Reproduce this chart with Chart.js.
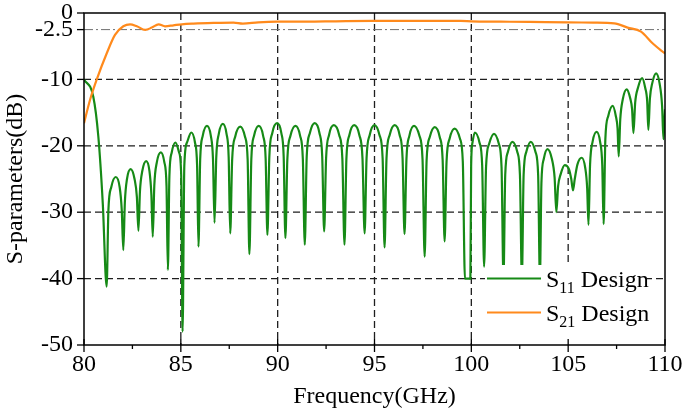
<!DOCTYPE html>
<html>
<head>
<meta charset="utf-8">
<script src="https://cdn.jsdelivr.net/npm/chart.js@4.4.0/dist/chart.umd.min.js"></script>
<style>
  html, body { margin: 0; padding: 0; background: #fff; }
</style>
</head>
<body>
<canvas id="chart" width="685" height="415"></canvas>
<script>
const FONT = "'Liberation Serif', 'Times New Roman', serif";
const GREEN = "#168a16";
const ORANGE = "#ff8a1c";

// axes
const X_TICKS = [80, 85, 90, 95, 100, 105, 110];
const X_MINOR_TICKS = [82.5, 87.5, 92.5, 97.5, 102.5, 107.5];
const Y_TICKS = [0, -2.5, -10, -20, -30, -40, -50];
const X_GRID = [85, 90, 95, 100, 105];
const Y_GRID = [-10, -20, -30, -40];
const Y_REF = -2.5;

// S11 Design
const s11Freq = [
  80.00, 80.48, 80.74, 80.97, 81.17, 81.26, 81.41, 81.64, 81.84, 81.95,
  82.03, 82.11, 82.22, 82.41, 82.61, 82.73, 82.81, 82.89, 83.01, 83.21,
  83.38, 83.48, 83.55, 83.63, 83.76, 83.97, 84.15, 84.26, 84.33, 84.41,
  84.53, 84.72, 84.91, 85.02, 85.09, 85.18, 85.32, 85.54, 85.73, 85.84,
  85.91, 86.00, 86.13, 86.35, 86.55, 86.66, 86.74, 86.83, 86.96, 87.17,
  87.36, 87.47, 87.55, 87.65, 87.81, 88.07, 88.31, 88.45, 88.54, 88.64,
  88.78, 89.02, 89.25, 89.38, 89.47, 89.57, 89.72, 89.97, 90.19, 90.31,
  90.40, 90.50, 90.66, 90.92, 91.16, 91.30, 91.40, 91.50, 91.66, 91.91,
  92.16, 92.30, 92.40, 92.50, 92.65, 92.90, 93.18, 93.34, 93.45, 93.55,
  93.70, 93.95, 94.22, 94.38, 94.49, 94.59, 94.75, 95.00, 95.26, 95.42,
  95.52, 95.62, 95.78, 96.04, 96.30, 96.45, 96.55, 96.65, 96.80, 97.04,
  97.32, 97.48, 97.59, 97.69, 97.85, 98.11, 98.37, 98.52, 98.62, 98.72,
  98.88, 99.14, 99.41, 99.56, 99.67, 99.95, 99.99, 100.06, 100.18, 100.42,
  100.56, 100.66, 100.76, 100.92, 101.17, 101.42, 101.56, 101.66, 101.75, 101.89,
  102.12, 102.37, 102.51, 102.61, 102.70, 102.84, 103.07, 103.31, 103.45, 103.54,
  103.62, 103.74, 103.93, 104.16, 104.30, 104.39, 104.48, 104.61, 104.82, 105.04,
  105.16, 105.25, 105.34, 105.48, 105.70, 105.88, 105.98, 106.05, 106.13, 106.26,
  106.47, 106.65, 106.76, 106.83, 106.92, 107.07, 107.30, 107.46, 107.55, 107.61,
  107.69, 107.82, 108.02, 108.20, 108.30, 108.37, 108.46, 108.60, 108.82, 108.98,
  109.08, 109.14, 109.22, 109.34, 109.54, 109.72, 109.85, 109.92, 110.00
];
const s11Db = [
  -10.0, -12.6, -18.6, -28.7, -41.2, -29.7, -26.2, -24.7, -26.2, -29.7,
  -35.7, -28.5, -25.0, -23.5, -25.0, -27.7, -32.8, -26.8, -23.8, -22.3,
  -23.8, -27.4, -33.7, -26.0, -22.5, -21.0, -22.5, -26.0, -38.7, -24.5,
  -21.0, -19.5, -21.0, -24.5, -48.0, -23.0, -19.5, -18.0, -19.5, -23.0,
  -35.2, -22.0, -18.5, -17.0, -18.5, -22.0, -31.6, -21.7, -18.2, -16.7,
  -18.2, -21.7, -33.2, -22.1, -18.6, -17.1, -18.6, -22.1, -36.3, -22.0,
  -18.5, -17.0, -18.5, -22.0, -33.4, -21.6, -18.1, -16.6, -18.1, -21.6,
  -33.9, -22.0, -18.5, -17.0, -18.5, -22.0, -34.9, -21.6, -18.1, -16.6,
  -18.1, -21.6, -32.9, -21.9, -18.4, -16.9, -18.4, -21.9, -34.9, -21.9,
  -18.4, -16.9, -18.4, -21.9, -33.2, -21.9, -18.4, -16.9, -18.4, -21.9,
  -35.3, -21.9, -18.4, -16.9, -18.4, -21.9, -33.3, -22.0, -18.5, -17.0,
  -18.5, -22.0, -36.7, -22.2, -18.7, -17.2, -18.7, -22.2, -34.4, -22.4,
  -18.9, -17.4, -18.9, -22.4, -40.0, -40.0, -23.0, -19.5, -18.0, -19.5,
  -23.0, -38.2, -23.2, -19.7, -18.2, -19.7, -23.2, -40.0, -24.4, -20.9,
  -19.4, -20.9, -24.4, -40.0, -24.4, -20.9, -19.4, -20.9, -24.4, -40.0,
  -25.5, -22.0, -20.5, -22.0, -24.8, -30.0, -26.1, -24.3, -22.9, -23.5,
  -25.0, -26.7, -25.0, -22.8, -21.8, -23.3, -26.3, -31.9, -22.9, -19.4,
  -17.9, -19.4, -22.9, -31.8, -19.0, -15.5, -14.0, -15.5, -17.4, -21.6,
  -16.0, -13.0, -11.5, -12.8, -14.5, -18.1, -13.5, -11.3, -9.8, -11.3,
  -13.3, -17.6, -12.9, -10.6, -9.1, -10.6, -14.0, -19.0, -14.5
];

// S21 Design
const s21Freq = [
  80.00, 80.31, 80.66, 81.17, 81.60, 82.03, 82.38, 82.73, 83.16, 83.50,
  83.85, 84.19, 84.62, 85.05, 85.65, 86.69, 87.72, 88.20, 89.00, 89.97,
  91.50, 93.00, 94.95, 97.00, 99.45, 100.00, 101.50, 103.00, 104.97, 106.30,
  107.38, 108.07, 108.76, 109.37, 110.00
];
const s21Db = [
  -16.6, -13.1, -10.0, -6.1, -3.3, -2.0, -1.7, -2.0, -2.55, -2.2,
  -1.7, -2.0, -1.85, -1.7, -1.6, -1.5, -1.45, -1.6, -1.4, -1.3,
  -1.3, -1.25, -1.2, -1.2, -1.2, -1.25, -1.3, -1.35, -1.4, -1.45,
  -1.55, -2.2, -2.8, -4.6, -6.1
];

const seriesNames = ["11", "21"];

function toPoints(xs, ys) {
  return xs.map((x, i) => ({ x: x, y: ys[i] }));
}

// grid, frame, tick marks and the legend box
const decorations = {
  id: "decorations",
  beforeDatasetsDraw(chart) {
    const { ctx, chartArea: a, scales: { x, y } } = chart;
    ctx.save();
    ctx.strokeStyle = "#1e1e1e";
    ctx.lineWidth = 1.3;
    ctx.setLineDash([7, 4]);
    X_GRID.forEach((v) => {
      const px = x.getPixelForValue(v);
      ctx.beginPath();
      ctx.moveTo(px, a.top);
      ctx.lineTo(px, a.bottom);
      ctx.stroke();
    });
    Y_GRID.forEach((v) => {
      const py = y.getPixelForValue(v);
      ctx.beginPath();
      ctx.moveTo(a.left, py);
      ctx.lineTo(a.right, py);
      ctx.stroke();
    });
    ctx.strokeStyle = "#707070";
    ctx.lineWidth = 1;
    ctx.setLineDash([9, 3, 2, 3]);
    const pr = y.getPixelForValue(Y_REF);
    ctx.beginPath();
    ctx.moveTo(a.left, pr);
    ctx.lineTo(a.right, pr);
    ctx.stroke();
    ctx.restore();
  },
  afterDatasetsDraw(chart) {
    const { ctx, chartArea: a, scales: { x, y } } = chart;
    ctx.save();

    // legend
    const lx = a.right - 180;
    const ly = a.bottom - 80;
    ctx.fillStyle = "#fff";
    ctx.fillRect(lx, ly, 162, a.bottom - ly);
    const colors = [GREEN, ORANGE];
    seriesNames.forEach((sub, i) => {
      const rowY = ly + 13.5 + i * 34;
      ctx.strokeStyle = colors[i];
      ctx.lineWidth = 2;
      ctx.beginPath();
      ctx.moveTo(lx + 2, rowY);
      ctx.lineTo(lx + 56, rowY);
      ctx.stroke();
      ctx.fillStyle = "#000";
      ctx.textBaseline = "alphabetic";
      ctx.textAlign = "left";
      let tx = lx + 61;
      ctx.font = "24px " + FONT;
      ctx.fillText("S", tx, rowY + 8.5);
      tx += ctx.measureText("S").width;
      ctx.font = "16px " + FONT;
      ctx.fillText(sub, tx, rowY + 14);
      tx += ctx.measureText(sub).width;
      ctx.font = "24px " + FONT;
      ctx.fillText(" Design", tx, rowY + 8.5);
    });

    // frame
    ctx.strokeStyle = "#000";
    ctx.lineWidth = 1.5;
    ctx.strokeRect(a.left, a.top, a.right - a.left, a.bottom - a.top);

    // tick marks
    ctx.lineWidth = 1.3;
    X_TICKS.forEach((v) => {
      const px = x.getPixelForValue(v);
      ctx.beginPath();
      ctx.moveTo(px, a.bottom - 6);
      ctx.lineTo(px, a.bottom + 7);
      ctx.stroke();
    });
    X_MINOR_TICKS.forEach((v) => {
      const px = x.getPixelForValue(v);
      ctx.beginPath();
      ctx.moveTo(px, a.bottom);
      ctx.lineTo(px, a.bottom + 4);
      ctx.stroke();
    });
    Y_TICKS.forEach((v) => {
      const py = y.getPixelForValue(v);
      ctx.beginPath();
      ctx.moveTo(a.left - 7, py);
      ctx.lineTo(a.left, py);
      ctx.stroke();
    });
    ctx.restore();
  },
};

new Chart(document.getElementById("chart"), {
  type: "line",
  data: {
    datasets: [
      {
        label: "S11 Design",
        data: toPoints(s11Freq, s11Db),
        borderColor: GREEN,
        borderWidth: 2.2,
        pointRadius: 0,
        cubicInterpolationMode: "monotone",
        order: 2,
      },
      {
        label: "S21 Design",
        data: toPoints(s21Freq, s21Db),
        borderColor: ORANGE,
        borderWidth: 2.2,
        pointRadius: 0,
        cubicInterpolationMode: "monotone",
        order: 1,
      },
    ],
  },
  options: {
    responsive: false,
    animation: false,
    layout: { padding: { top: 13, right: 20, left: 0, bottom: 0 } },
    plugins: { legend: { display: false }, tooltip: { enabled: false } },
    scales: {
      x: {
        type: "linear",
        min: 80,
        max: 110,
        afterBuildTicks: (s) => { s.ticks = X_TICKS.map((v) => ({ value: v })); },
        afterFit: (s) => {
          s.height = 70;
          s.paddingLeft = 0;
          s.paddingRight = 0;
        },
        grid: { display: false, drawTicks: false },
        border: { display: false },
        ticks: {
          font: { family: FONT, size: 24 },
          color: "#000",
          padding: 5,
          maxRotation: 0,
          autoSkip: false,
          callback: (v) => String(v),
        },
        title: {
          display: true,
          text: "Frequency(GHz)",
          font: { family: FONT, size: 24 },
          color: "#000",
          padding: { top: 0, bottom: 4 },
        },
      },
      y: {
        min: -50,
        max: 0,
        afterBuildTicks: (s) => { s.ticks = Y_TICKS.map((v) => ({ value: v })); },
        afterFit: (s) => {
          s.width = 84;
          s.paddingTop = 0;
          s.paddingBottom = 0;
        },
        grid: { display: false, drawTicks: false },
        border: { display: false },
        ticks: {
          font: { family: FONT, size: 24 },
          color: "#000",
          padding: 11,
          autoSkip: false,
          callback: (v) => String(v),
        },
        title: {
          display: true,
          text: "S-parameters(dB)",
          font: { family: FONT, size: 24 },
          color: "#000",
          padding: { top: 1, bottom: 0 },
        },
      },
    },
  },
  plugins: [decorations],
});
</script>
</body>
</html>
